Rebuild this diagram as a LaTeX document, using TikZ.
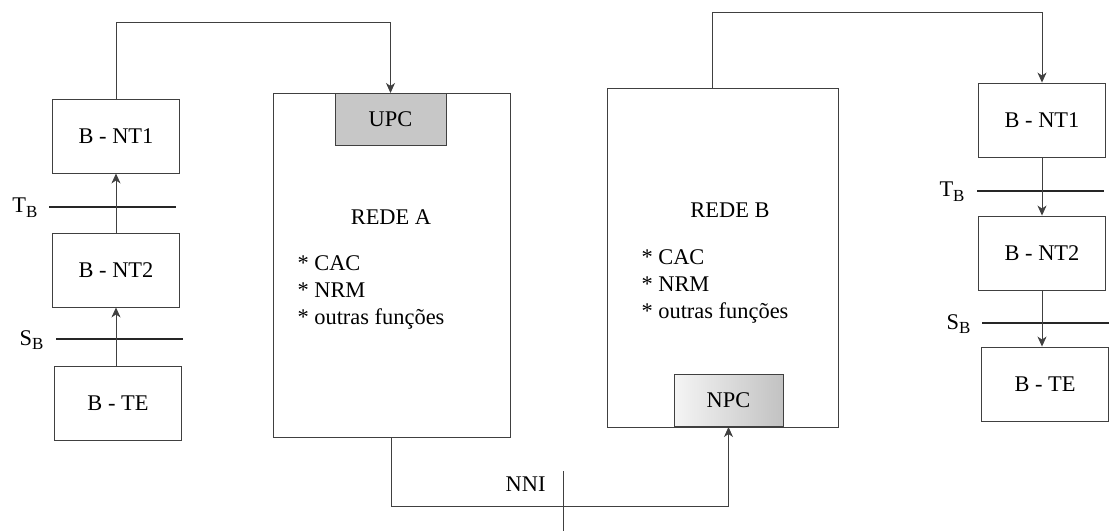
\documentclass[tikz,border=0pt]{standalone}
\usepackage{fontspec}
\setmainfont{Liberation Serif}
\usetikzlibrary{arrows.meta}

\newcommand{\ifsub}[2]{#1\raisebox{-0.45ex}{\fontsize{17}{17}\selectfont #2}}

\begin{document}
\begin{tikzpicture}[x=1bp, y=-1bp,
	every node/.style={font=\fontsize{22.5}{27}\selectfont, text=black},
	>={Stealth[length=10bp, width=9bp, inset=3bp]},
	box/.style={draw=black!75, line width=0.9bp, minimum width=127bp, minimum height=74bp, inner sep=0pt},
	rede/.style={draw=black!75, line width=0.9bp, inner sep=0pt},
	pc/.style={draw=black!75, line width=0.9bp, inner sep=0pt, minimum height=52bp},
	iface/.style={black!85, line width=2bp},
	conn/.style={black!75, line width=0.9bp}]
	\useasboundingbox (0,0) rectangle (1109,531);
	% network boxes
	\node[rede, minimum width=237bp, minimum height=344bp] (redeA) at (391.5,265) {};
	\node[rede, minimum width=231bp, minimum height=339bp] (redeB) at (722.5,257.5) {};
	\node[pc, fill=black!22, minimum width=111bp, anchor=north] (upc) at (390.5,93) {UPC};
	\node[pc, left color=black!4, right color=black!24, minimum width=109bp, anchor=south] (npc) at (728.5,427) {NPC};
	\node (redeAtxt) at (391,217) {REDE A};
	\node (redeBtxt) at (730,210) {REDE B};
	\node[anchor=north west, align=left] (funcA) at (294,252) {* CAC\\* NRM\\* outras funções};
	\node[anchor=north west, align=left] (funcB) at (638,246) {* CAC\\* NRM\\* outras funções};
	% left terminal side
	\node[box] (ntA1) at (116,136) {B - NT1};
	\node[box] (ntA2) at (116,270) {B - NT2};
	\node[box] (teA) at (118,403) {B - TE};
	\draw[iface] (49,207) -- (176,207);
	\draw[iface] (56,339) -- (183,339);
	\node[anchor=east] (tbA) at (41,208) {\ifsub{T}{B}};
	\node[anchor=east] (sbA) at (47,340) {\ifsub{S}{B}};
	\draw[conn, ->] (teA.north -| ntA2.south) -- (ntA2.south);
	\draw[conn, ->] (ntA2.north) -- (ntA1.south);
	% right terminal side
	\node[box] (ntB1) at (1042,120) {B - NT1};
	\node[box] (ntB2) at (1042,253) {B - NT2};
	\node[box] (teB) at (1045,384) {B - TE};
	\draw[iface] (977,191) -- (1104,191);
	\draw[iface] (982,323) -- (1109,323);
	\node[anchor=east] (tbB) at (968,192) {\ifsub{T}{B}};
	\node[anchor=east] (sbB) at (974,324) {\ifsub{S}{B}};
	\draw[conn, ->] (ntB1.south) -- (ntB2.north);
	\draw[conn, ->] (ntB2.south) -- (ntB2.south |- teB.north);
	% links between networks and terminals
	\coordinate (topA) at (0,22);
	\coordinate (topB) at (0,12);
	\coordinate (nniY) at (0,506);
	\coordinate (nniTop) at (563,471);
	\coordinate (nniBot) at (563,531);
	\draw[conn, ->] (ntA1.north) -- (ntA1.north |- topA) -| (upc.north);
	\draw[conn, ->] ([xshift=-10bp]redeB.north) -- ([xshift=-10bp]redeB.north |- topB) -| (ntB1.north);
	\draw[conn, ->] (redeA.south) -- (redeA.south |- nniY) -| (npc.south);
	\draw[conn] (nniTop) -- (nniBot);
	\node[anchor=east] (nni) at (549,484) {NNI};
\end{tikzpicture}
\end{document}
